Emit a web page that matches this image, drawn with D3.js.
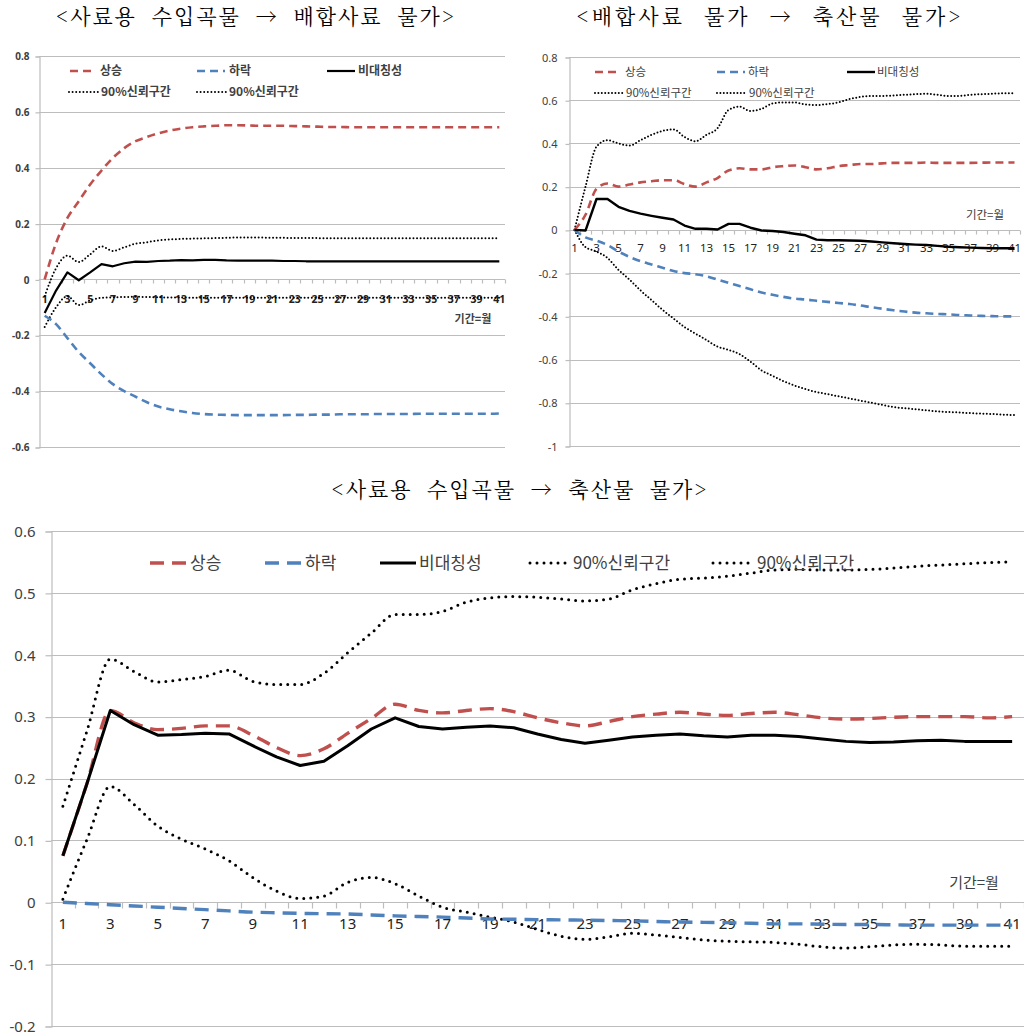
<!DOCTYPE html>
<html><head><meta charset="utf-8">
<script src="https://cdn.jsdelivr.net/npm/d3@7"></script>
<style>
body{margin:0;background:#fff}
svg{display:block}
text{font-family:"Noto Sans CJK KR","Noto Sans",sans-serif}
</style>
</head><body>
<svg id="c" width="1024" height="1035"></svg>
<script>
// ---------------- DATA ----------------
const periods = [1,2,3,4,5,6,7,8,9,10,11,12,13,14,15,16,17,18,19,20,21,22,23,24,25,26,27,28,29,30,31,32,33,34,35,36,37,38,39,40,41];
const xTickLabels = [1,3,5,7,9,11,13,15,17,19,21,23,25,27,29,31,33,35,37,39,41];
const seriesNames = ["상승","하락","비대칭성","90%신뢰구간","90%신뢰구간"];
const unitLabel = "기간=월";
const titles = ["<사료용 수입곡물 → 배합사료 물가>","<배합사료 물가 → 축산물 물가>","<사료용 수입곡물 → 축산물 물가>"];
const yTicks1 = [-0.6,-0.4,-0.2,0,0.2,0.4,0.6,0.8];
const yTicks2 = [-1,-0.8,-0.6,-0.4,-0.2,0,0.2,0.4,0.6,0.8];
const yTicks3 = [-0.2,-0.1,0,0.1,0.2,0.3,0.4,0.5,0.6];

// Panel 1: 사료용 수입곡물 → 배합사료 물가
const up1 = [0,0.13,0.22,0.28,0.34,0.39,0.435,0.47,0.495,0.51,0.523,0.533,0.54,0.545,0.548,0.55,0.552,0.552,0.551,0.55,0.55,0.55,0.549,0.548,0.547,0.546,0.546,0.545,0.545,0.545,0.545,0.545,0.545,0.545,0.545,0.545,0.545,0.545,0.545,0.545,0.545];
const down1 = [-0.13,-0.16,-0.21,-0.26,-0.3,-0.34,-0.375,-0.4,-0.42,-0.44,-0.455,-0.465,-0.472,-0.478,-0.482,-0.484,-0.485,-0.486,-0.486,-0.486,-0.486,-0.486,-0.485,-0.485,-0.484,-0.484,-0.483,-0.483,-0.483,-0.482,-0.482,-0.482,-0.482,-0.481,-0.481,-0.481,-0.481,-0.481,-0.481,-0.481,-0.48];
const asym1 = [-0.12,-0.04,0.025,-0.003,0.025,0.055,0.047,0.058,0.064,0.063,0.066,0.067,0.069,0.068,0.07,0.07,0.068,0.067,0.067,0.067,0.067,0.066,0.066,0.065,0.065,0.065,0.065,0.065,0.065,0.065,0.065,0.065,0.065,0.065,0.065,0.065,0.065,0.065,0.065,0.065,0.065];
const ciUp1 = [-0.06,0.04,0.085,0.062,0.09,0.118,0.102,0.115,0.128,0.133,0.14,0.143,0.145,0.146,0.147,0.148,0.149,0.15,0.15,0.15,0.149,0.149,0.148,0.148,0.148,0.147,0.147,0.147,0.147,0.147,0.147,0.147,0.147,0.147,0.147,0.147,0.147,0.147,0.147,0.147,0.147];
const ciLo1 = [-0.17,-0.1,-0.06,-0.092,-0.075,-0.066,-0.064,-0.063,-0.062,-0.063,-0.064,-0.065,-0.065,-0.066,-0.066,-0.066,-0.066,-0.066,-0.066,-0.066,-0.066,-0.066,-0.066,-0.066,-0.066,-0.066,-0.066,-0.066,-0.066,-0.066,-0.066,-0.066,-0.066,-0.066,-0.066,-0.066,-0.066,-0.066,-0.066,-0.066,-0.066];

// Panel 2: 배합사료 물가 → 축산물 물가
const up2 = [0,0.07,0.19,0.215,0.2,0.21,0.22,0.225,0.23,0.23,0.212,0.2,0.22,0.24,0.275,0.285,0.28,0.28,0.29,0.295,0.298,0.29,0.28,0.285,0.295,0.3,0.305,0.305,0.308,0.31,0.31,0.31,0.312,0.31,0.31,0.31,0.31,0.311,0.312,0.312,0.312];
const down2 = [0,-0.035,-0.05,-0.07,-0.1,-0.125,-0.145,-0.16,-0.175,-0.19,-0.2,-0.205,-0.215,-0.23,-0.245,-0.26,-0.275,-0.29,-0.3,-0.31,-0.318,-0.322,-0.328,-0.333,-0.338,-0.343,-0.35,-0.358,-0.365,-0.372,-0.378,-0.383,-0.386,-0.389,-0.391,-0.394,-0.396,-0.398,-0.399,-0.4,-0.4];
const asym2 = [0,-0.003,0.143,0.143,0.107,0.088,0.075,0.065,0.056,0.048,0.02,0.005,0.005,0.002,0.028,0.028,0.01,-0.003,-0.005,-0.01,-0.018,-0.025,-0.045,-0.048,-0.048,-0.049,-0.05,-0.054,-0.058,-0.062,-0.065,-0.068,-0.07,-0.074,-0.078,-0.08,-0.082,-0.084,-0.085,-0.085,-0.085];
const ciUp2 = [0,0.2,0.385,0.415,0.4,0.39,0.415,0.44,0.458,0.465,0.43,0.41,0.44,0.47,0.555,0.57,0.55,0.56,0.585,0.59,0.59,0.58,0.578,0.582,0.59,0.605,0.615,0.62,0.62,0.622,0.625,0.628,0.63,0.625,0.62,0.62,0.625,0.628,0.63,0.632,0.632];
const ciLo2 = [0,-0.08,-0.1,-0.13,-0.185,-0.23,-0.28,-0.325,-0.37,-0.41,-0.45,-0.48,-0.51,-0.54,-0.555,-0.575,-0.61,-0.65,-0.675,-0.7,-0.72,-0.737,-0.75,-0.76,-0.77,-0.78,-0.79,-0.8,-0.81,-0.82,-0.825,-0.83,-0.835,-0.84,-0.843,-0.845,-0.848,-0.85,-0.852,-0.855,-0.857];

// Panel 3: 사료용 수입곡물 → 축산물 물가
const up3 = [0.075,0.19,0.31,0.29,0.279,0.281,0.285,0.285,0.27,0.25,0.237,0.248,0.273,0.297,0.32,0.31,0.306,0.31,0.313,0.308,0.298,0.29,0.285,0.292,0.3,0.304,0.307,0.304,0.302,0.305,0.307,0.303,0.298,0.296,0.297,0.299,0.3,0.3,0.3,0.298,0.3];
const down3 = [0,-0.002,-0.004,-0.006,-0.008,-0.01,-0.012,-0.014,-0.016,-0.017,-0.018,-0.0185,-0.019,-0.0205,-0.022,-0.023,-0.024,-0.0255,-0.027,-0.0275,-0.028,-0.0285,-0.029,-0.0295,-0.03,-0.031,-0.032,-0.0325,-0.033,-0.034,-0.035,-0.035,-0.0355,-0.036,-0.036,-0.0365,-0.037,-0.037,-0.037,-0.037,-0.037];
const asym3 = [0.075,0.19,0.31,0.287,0.27,0.271,0.273,0.272,0.253,0.235,0.221,0.228,0.253,0.28,0.298,0.284,0.28,0.283,0.285,0.282,0.272,0.263,0.257,0.262,0.267,0.27,0.272,0.269,0.267,0.27,0.27,0.268,0.264,0.26,0.258,0.259,0.261,0.262,0.26,0.26,0.26];
const ciUp3 = [0.155,0.275,0.393,0.373,0.356,0.36,0.365,0.375,0.357,0.352,0.352,0.37,0.403,0.435,0.465,0.465,0.47,0.485,0.492,0.494,0.493,0.49,0.487,0.49,0.505,0.515,0.522,0.524,0.527,0.532,0.537,0.538,0.537,0.537,0.538,0.54,0.543,0.545,0.547,0.549,0.55];
const ciLo3 = [0.005,0.1,0.187,0.158,0.123,0.102,0.086,0.067,0.04,0.018,0.006,0.01,0.032,0.04,0.03,0.01,-0.008,-0.016,-0.024,-0.032,-0.044,-0.055,-0.06,-0.056,-0.05,-0.053,-0.057,-0.061,-0.063,-0.064,-0.065,-0.068,-0.072,-0.074,-0.072,-0.069,-0.068,-0.069,-0.071,-0.071,-0.071];

// ---------------- STYLE / LAYOUT ----------------
const RED = "#C0504D", BLUE = "#4F81BD", BLACK = "#000";
const GRID = "#BDBDBD", LABEL = "#404040";

const panels = [
  { title: titles[0], titleX: 256, titleY: 24, titleW: 398, titleSize: 21,
    left: 39, right: 505, top: 56, bottom: 447, domain: [-0.6, 0.8], yTicks: yTicks1,
    yFont: 10, yWeight: "bold", yPad: 6, xFont: 10.5, xWeight: "bold", xPad: 16, tick: 4,
    data: [up1, down1, asym1, ciUp1, ciLo1],
    dash: "8,5", dashW: 2.6, solidW: 2.2, dotW: 2, dot: "0,3.6",
    legFont: 12, legWeight: "bold",
    legend: [
      {k:0, x1:70, x2:96, y:71, tx:100},
      {k:1, x1:197, x2:225, y:71, tx:229},
      {k:2, x1:327, x2:355, y:71, tx:358},
      {k:3, x1:69, x2:98, y:92, tx:101},
      {k:4, x1:197, x2:226, y:92, tx:229}
    ],
    unitX: 473, unitY: 323, unitFont: 11, unitWeight: "bold" },
  { title: titles[1], titleX: 770, titleY: 24, titleW: 384, titleSize: 21,
    left: 569, right: 1020, top: 57, bottom: 446, domain: [-1, 0.8], yTicks: yTicks2,
    yFont: 11, yWeight: "normal", yPad: 8, xFont: 11.5, xWeight: "normal", xPad: 13, tick: 4,
    data: [up2, down2, asym2, ciUp2, ciLo2],
    dash: "8,5", dashW: 2.6, solidW: 2.4, dotW: 2, dot: "0,3.4",
    legFont: 11.5, legWeight: "normal",
    legend: [
      {k:0, x1:595, x2:621, y:72, tx:625},
      {k:1, x1:717, x2:745, y:72, tx:748},
      {k:2, x1:847, x2:875, y:72, tx:877},
      {k:3, x1:595, x2:623, y:93, tx:626},
      {k:4, x1:717, x2:746, y:93, tx:749}
    ],
    unitX: 985, unitY: 219, unitFont: 11.5, unitWeight: "normal" },
  { title: titles[2], titleX: 520, titleY: 497, titleW: 375, titleSize: 21,
    left: 51, right: 1024, top: 531, bottom: 1026, domain: [-0.2, 0.6], yTicks: yTicks3,
    yFont: 15, yWeight: "normal", yPad: 10, xFont: 15, xWeight: "normal", xPad: 16, tick: 6,
    data: [up3, down3, asym3, ciUp3, ciLo3],
    dash: "14,8", dashW: 3.4, solidW: 3, dotW: 3, dot: "0,7",
    legFont: 17, legWeight: "normal",
    legend: [
      {k:0, x1:150, x2:186, y:563, tx:190},
      {k:1, x1:265, x2:301, y:563, tx:305},
      {k:2, x1:380, x2:416, y:563, tx:419},
      {k:3, x1:530, x2:566, y:563, tx:573},
      {k:4, x1:713, x2:750, y:563, tx:757}
    ],
    unitX: 974, unitY: 888, unitFont: 15, unitWeight: "normal" }
];

const svg = d3.select("#c");

function styleFor(p, k) {
  if (k === 0) return {stroke: RED, w: p.dashW, dash: p.dash, cap: "butt", curve: d3.curveMonotoneX};
  if (k === 1) return {stroke: BLUE, w: p.dashW, dash: p.dash, cap: "butt", curve: d3.curveMonotoneX};
  if (k === 2) return {stroke: BLACK, w: p.solidW, dash: null, cap: "butt", curve: d3.curveLinear};
  return {stroke: BLACK, w: p.dotW, dash: p.dot, cap: "round", curve: d3.curveMonotoneX};
}

function drawPanel(p) {
  const g = svg.append("g");
  const x = d3.scaleBand().domain(periods).range([p.left, p.right]).paddingInner(0).paddingOuter(0);
  const xc = d => x(d) + x.bandwidth() / 2;
  const y = d3.scaleLinear().domain(p.domain).range([p.bottom, p.top]);

  // gridlines
  g.append("g").selectAll("line").data(p.yTicks).join("line")
    .attr("x1", p.left).attr("x2", p.right)
    .attr("y1", d => Math.round(y(d)) + 0.5).attr("y2", d => Math.round(y(d)) + 0.5)
    .attr("stroke", GRID).attr("stroke-width", 1.2);

  // y axis
  const yAxis = d3.axisLeft(y).tickValues(p.yTicks).tickSize(p.tick).tickPadding(p.yPad)
    .tickFormat(d => String(+d.toFixed(1)));
  const ya = g.append("g").attr("transform", `translate(${p.left + 0.5},0.5)`).call(yAxis);
  ya.select(".domain").attr("stroke", GRID).attr("stroke-width", 1.2);
  ya.selectAll(".tick line").attr("stroke", GRID).attr("stroke-width", 1.2);
  ya.selectAll(".tick text").attr("fill", LABEL).attr("font-size", p.yFont)
    .attr("font-weight", p.yWeight).style("font-family", '"Noto Sans","Noto Sans CJK KR",sans-serif');

  // x axis on zero line: ticks at category boundaries
  const y0 = Math.round(y(0)) + 0.5;
  const bounds = periods.map(d => x(d)).concat([p.right]);
  g.append("g").selectAll("line").data(bounds.slice(1)).join("line")
    .attr("x1", d => Math.round(d) + 0.5).attr("x2", d => Math.round(d) + 0.5)
    .attr("y1", y0).attr("y2", y0 + p.tick)
    .attr("stroke", GRID).attr("stroke-width", 1.2);

  const xAxis = d3.axisBottom(x).tickValues(xTickLabels).tickSize(0).tickPadding(p.xPad);
  const xa = g.append("g").attr("transform", `translate(0,${y0})`).call(xAxis);
  xa.select(".domain").remove();
  xa.selectAll(".tick text").attr("fill", "#222").attr("font-size", p.xFont)
    .attr("font-weight", p.xWeight).style("font-family", '"Noto Sans","Noto Sans CJK KR",sans-serif');

  // series
  const order = [3, 4, 1, 0, 2];
  order.forEach(k => {
    const s = styleFor(p, k);
    const line = d3.line().x((d, i) => xc(periods[i])).y(d => y(d)).curve(s.curve);
    g.append("path").datum(p.data[k]).attr("d", line)
      .attr("fill", "none").attr("stroke", s.stroke).attr("stroke-width", s.w)
      .attr("stroke-dasharray", s.dash).attr("stroke-linecap", s.cap).attr("stroke-linejoin", "round");
  });

  // legend
  p.legend.forEach(it => {
    const s = styleFor(p, it.k);
    g.append("line").attr("x1", it.x1).attr("x2", it.x2).attr("y1", it.y).attr("y2", it.y)
      .attr("stroke", s.stroke).attr("stroke-width", s.w)
      .attr("stroke-dasharray", s.dash).attr("stroke-linecap", s.cap);
    g.append("text").attr("x", it.tx).attr("y", it.y).attr("dy", "0.35em")
      .attr("font-size", p.legFont).attr("font-weight", p.legWeight).attr("fill", LABEL)
      .text(seriesNames[it.k]);
  });

  // unit label
  g.append("text").attr("x", p.unitX).attr("y", p.unitY).attr("text-anchor", "middle")
    .attr("font-size", p.unitFont).attr("font-weight", p.unitWeight).attr("fill", LABEL).text(unitLabel);

  // title: spread extra width partly over letters, partly over word gaps
  const t = g.append("text").attr("x", p.titleX).attr("y", p.titleY)
    .attr("text-anchor", "middle")
    .attr("font-size", p.titleSize).attr("fill", "#000")
    .style("font-family", '"Noto Serif CJK KR","Noto Sans CJK KR",serif')
    .style("white-space", "pre")
    .text(p.title);
  const natural = t.node().getComputedTextLength();
  const nSpaces = (p.title.match(/ /g) || []).length;
  const nChars = p.title.length - 1;
  const deficit = p.titleW - natural;
  if (deficit > 0) {
    t.style("letter-spacing", (deficit * 0.55 / nChars) + "px");
    if (nSpaces > 0) t.style("word-spacing", (deficit * 0.45 / nSpaces) + "px");
  }
}

panels.forEach(drawPanel);
</script>
</body></html>
